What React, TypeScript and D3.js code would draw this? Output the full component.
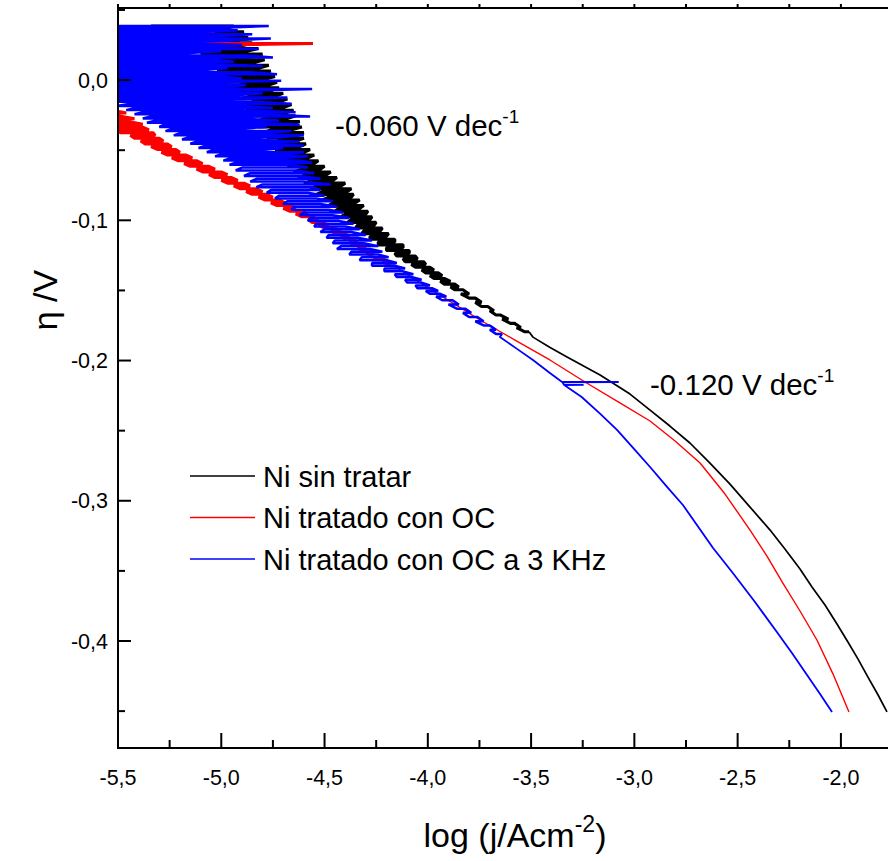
import React from "react";
import * as d3 from "d3";

// ---------- axis ticks ----------
const xTickValues = [-5.5, -5.0, -4.5, -4.0, -3.5, -3.0, -2.5, -2.0];
const xTickLabels = ["-5,5", "-5,0", "-4,5", "-4,0", "-3,5", "-3,0", "-2,5", "-2,0"];
const xMinorTicks = [-5.25, -4.75, -4.25, -3.75, -3.25, -2.75, -2.25];
const yTickValues = [0, -0.1, -0.2, -0.3, -0.4];
const yTickLabels = ["0,0", "-0,1", "-0,2", "-0,3", "-0,4"];
const yMinorTicks = [0.05, -0.05, -0.15, -0.25, -0.35, -0.45];

const seriesNames = ["Ni sin tratar", "Ni tratado con OC", "Ni tratado con OC a 3 KHz"];
const seriesColors = ["#000000", "#ff0000", "#0000ff"];

// ---------- data ----------
// noisy parts: [eta (V), logj excursion start, logj excursion end] at each potential step
// smooth parts: [eta (V), logj]

const blackNoisyRows: [number, number, number][] = [
  [0.0385, -5.34, -4.94], [0.0365, -5.22, -4.98], [0.0345, -5.3, -4.89], [0.0325, -5.15, -4.95],
  [0.0305, -5.24, -4.87], [0.0285, -5.1, -4.92], [0.0265, -5.18, -4.85], [0.0245, -5.06, -4.9],
  [0.0225, -5.14, -4.82], [0.0205, -5.04, -4.88], [0.0185, -5.1, -4.8], [0.0165, -5.0, -4.86],
  [0.0145, -5.06, -4.79], [0.0125, -4.98, -4.84], [0.0105, -5.04, -4.77], [0.0085, -4.96, -4.82],
  [0.0065, -5.02, -4.76], [0.0045, -4.94, -4.8], [0.0025, -5.0, -4.74], [0.0005, -4.93, -4.79],
  [-0.0015, -4.98, -4.73], [-0.0035, -4.9, -4.77], [-0.0055, -4.96, -4.72], [-0.0075, -4.88, -4.76],
  [-0.0095, -4.94, -4.7], [-0.0115, -4.86, -4.74], [-0.0135, -4.92, -4.68], [-0.0155, -4.84, -4.72],
  [-0.0175, -4.9, -4.66], [-0.0195, -4.82, -4.7], [-0.0215, -4.88, -4.65], [-0.0235, -4.8, -4.69],
  [-0.0255, -4.86, -4.64], [-0.0275, -4.79, -4.68], [-0.0295, -4.84, -4.62], [-0.0315, -4.77, -4.67],
  [-0.0335, -4.82, -4.61], [-0.0355, -4.76, -4.66], [-0.0375, -4.8, -4.6], [-0.0395, -4.74, -4.65],
  [-0.0415, -4.78, -4.6], [-0.0435, -4.72, -4.64], [-0.0455, -4.76, -4.59], [-0.0475, -4.7, -4.62],
  [-0.0495, -4.74, -4.57], [-0.0515, -4.68, -4.6], [-0.0535, -4.72, -4.55], [-0.0555, -4.66, -4.58],
  [-0.0575, -4.7, -4.53], [-0.0595, -4.64, -4.55], [-0.0615, -4.68, -4.5], [-0.0635, -4.61, -4.52],
  [-0.0655, -4.65, -4.47], [-0.0675, -4.59, -4.49], [-0.0695, -4.63, -4.44], [-0.0715, -4.56, -4.46],
  [-0.0735, -4.6, -4.4], [-0.0755, -4.54, -4.42], [-0.0775, -4.57, -4.37], [-0.0795, -4.51, -4.39],
  [-0.0815, -4.54, -4.36], [-0.0835, -4.48, -4.37], [-0.0855, -4.51, -4.33], [-0.0875, -4.46, -4.35],
  [-0.0895, -4.48, -4.31], [-0.0915, -4.43, -4.33], [-0.0935, -4.45, -4.29], [-0.0955, -4.4, -4.3],
  [-0.0975, -4.42, -4.27], [-0.0995, -4.37, -4.28], [-0.1015, -4.39, -4.25], [-0.1035, -4.34, -4.26],
  [-0.1055, -4.35, -4.22], [-0.1075, -4.31, -4.23], [-0.1095, -4.32, -4.19], [-0.1115, -4.28, -4.2],
  [-0.1135, -4.28, -4.16], [-0.1155, -4.24, -4.16], [-0.1175, -4.24, -4.12], [-0.1195, -4.2, -4.12],
  [-0.1215, -4.2, -4.09], [-0.1235, -4.16, -4.09], [-0.1255, -4.15, -4.06], [-0.1275, -4.12, -4.05],
  [-0.1295, -4.11, -4.02], [-0.1315, -4.08, -4.01], [-0.1335, -4.06, -3.99], [-0.1355, -4.03, -3.97],
  [-0.1375, -4.01, -3.95], [-0.1395, -3.99, -3.93], [-0.1415, -3.97, -3.92], [-0.1435, -3.94, -3.89],
  [-0.1455, -3.92, -3.87], [-0.1475, -3.89, -3.85], [-0.1495, -3.87, -3.83], [-0.1525, -3.84, -3.8],
  [-0.1555, -3.8, -3.77], [-0.1585, -3.77, -3.74], [-0.1615, -3.74, -3.71], [-0.1645, -3.7, -3.68],
  [-0.1675, -3.67, -3.65], [-0.1705, -3.64, -3.61], [-0.1735, -3.6, -3.58], [-0.1765, -3.57, -3.55],
  [-0.1795, -3.53, -3.51],
];
const blackSmooth: [number, number][] = [
  [-0.1833, -3.491], [-0.1905, -3.41], [-0.1975, -3.326], [-0.2103, -3.166], [-0.2239, -3.021],
  [-0.2353, -2.924], [-0.2467, -2.828], [-0.2588, -2.731], [-0.2731, -2.634], [-0.2881, -2.537],
  [-0.3045, -2.44], [-0.3209, -2.343], [-0.3344, -2.271], [-0.3487, -2.198], [-0.3615, -2.14],
  [-0.3743, -2.077], [-0.3879, -2.019], [-0.4007, -1.966], [-0.4129, -1.917], [-0.4257, -1.869],
  [-0.4385, -1.82], [-0.4506, -1.777],
];

const redNoisyRows: [number, number, number][] = [
  [0.036, -5.75, -5.62], [0.0345, -5.7, -5.03], [0.032, -5.78, -5.6], [0.0295, -5.68, -5.58],
  [0.026, -5.7, -4.556], [0.0235, -5.74, -5.6], [0.0205, -5.66, -5.57], [0.0175, -5.76, -5.62],
  [0.0145, -5.7, -5.6], [0.0115, -5.73, -5.64], [0.0085, -5.66, -5.58], [0.0055, -5.7, -5.6],
  [0.0025, -5.72, -5.62], [-0.0005, -5.68, -5.57], [-0.0035, -5.7, -5.6], [-0.0065, -5.66, -5.56],
  [-0.0095, -5.69, -5.58], [-0.0125, -5.64, -5.55], [-0.0155, -5.66, -5.56], [-0.0185, -5.62, -5.53],
  [-0.0215, -5.64, -5.52], [-0.0235, -5.6, -5.46], [-0.0255, -5.62, -5.5], [-0.0275, -5.58, -5.42],
  [-0.0295, -5.6, -5.45], [-0.0315, -5.56, -5.38], [-0.0335, -5.55, -5.38], [-0.0355, -5.5, -5.35],
  [-0.0375, -5.49, -5.33], [-0.0395, -5.44, -5.32], [-0.0415, -5.42, -5.3], [-0.0435, -5.39, -5.28],
  [-0.0455, -5.37, -5.26], [-0.0475, -5.34, -5.24], [-0.0495, -5.31, -5.22], [-0.0515, -5.29, -5.2],
  [-0.0535, -5.26, -5.17], [-0.0555, -5.24, -5.14], [-0.0575, -5.21, -5.12], [-0.0595, -5.18, -5.09],
  [-0.0615, -5.15, -5.06], [-0.0635, -5.12, -5.03], [-0.0655, -5.09, -5.0], [-0.0675, -5.06, -4.97],
  [-0.0695, -5.03, -4.95], [-0.0715, -5.0, -4.92], [-0.0735, -4.97, -4.89], [-0.0755, -4.94, -4.86],
  [-0.0775, -4.91, -4.83], [-0.0795, -4.88, -4.8], [-0.0815, -4.85, -4.78], [-0.0835, -4.82, -4.75],
  [-0.0855, -4.79, -4.72], [-0.0875, -4.76, -4.69], [-0.0895, -4.73, -4.66], [-0.0915, -4.7, -4.64],
  [-0.0935, -4.67, -4.61], [-0.0955, -4.64, -4.58], [-0.0975, -4.61, -4.56], [-0.0995, -4.58, -4.53],
  [-0.1015, -4.56, -4.51], [-0.1035, -4.53, -4.48], [-0.1055, -4.5, -4.45], [-0.1075, -4.47, -4.42],
  [-0.1095, -4.45, -4.4], [-0.1115, -4.42, -4.38], [-0.1135, -4.4, -4.36], [-0.1155, -4.38, -4.34],
  [-0.1175, -4.36, -4.32], [-0.1195, -4.34, -4.3], [-0.1215, -4.32, -4.28], [-0.1235, -4.3, -4.26],
  [-0.1265, -4.26, -4.23], [-0.1295, -4.22, -4.19], [-0.1325, -4.18, -4.16],
];
const redSmooth: [number, number][] = [
  [-0.1354, -4.135], [-0.1533, -3.941], [-0.1711, -3.747], [-0.1854, -3.578], [-0.1996, -3.409],
  [-0.2153, -3.239], [-0.2302, -3.07], [-0.2431, -2.924], [-0.2574, -2.803], [-0.2731, -2.682],
  [-0.2952, -2.561], [-0.3209, -2.44], [-0.3394, -2.358], [-0.3587, -2.281], [-0.3786, -2.198],
  [-0.3993, -2.116], [-0.4236, -2.038], [-0.4506, -1.961],
];

const blueNoisyRows: [number, number, number][] = [
  [0.0386, -5.62, -4.77], [0.0371, -5.6, -5.02], [0.0356, -5.63, -4.92], [0.0341, -5.58, -5.12],
  [0.0326, -5.61, -4.85], [0.0311, -5.6, -5.05], [0.0296, -5.64, -4.76], [0.0281, -5.59, -4.98],
  [0.0266, -5.62, -5.15], [0.0251, -5.6, -4.9], [0.0236, -5.63, -5.06], [0.0221, -5.58, -4.82],
  [0.0206, -5.61, -5.0], [0.0191, -5.6, -5.18], [0.0176, -5.62, -4.88], [0.0161, -5.59, -4.75],
  [0.0146, -5.63, -5.04], [0.0131, -5.6, -4.94], [0.0116, -5.61, -5.1], [0.0101, -5.58, -4.8],
  [0.0086, -5.62, -4.97], [0.0071, -5.6, -5.08], [0.0056, -5.63, -4.86], [0.0041, -5.59, -4.73],
  [0.0026, -5.61, -5.0], [0.0011, -5.6, -4.9], [-0.0004, -5.62, -4.71], [-0.0019, -5.58, -5.06],
  [-0.0034, -5.6, -4.88], [-0.0049, -5.57, -4.95], [-0.0064, -5.6, -4.56], [-0.0079, -5.56, -5.0],
  [-0.0094, -5.58, -4.8], [-0.0109, -5.55, -4.93], [-0.0124, -5.6, -4.68], [-0.0139, -5.5, -4.98],
  [-0.0154, -5.52, -4.85], [-0.0169, -5.44, -4.66], [-0.0184, -5.5, -4.9], [-0.0199, -5.42, -4.75],
  [-0.0214, -5.46, -4.96], [-0.0229, -5.38, -4.64], [-0.0244, -5.42, -4.82], [-0.0259, -5.34, -4.57],
  [-0.0274, -5.38, -4.9], [-0.0289, -5.32, -4.72], [-0.0304, -5.36, -4.85], [-0.0319, -5.28, -4.62],
  [-0.0334, -5.3, -4.78], [-0.0349, -5.24, -4.92], [-0.0364, -5.27, -4.66], [-0.0379, -5.2, -4.8],
  [-0.0394, -5.23, -4.6], [-0.0409, -5.16, -4.74], [-0.0424, -5.19, -4.86], [-0.0439, -5.12, -4.62],
  [-0.0454, -5.15, -4.76], [-0.0469, -5.08, -4.6], [-0.0484, -5.11, -4.7], [-0.0499, -5.04, -4.8],
  [-0.0514, -5.07, -4.6], [-0.0529, -5.0, -4.68], [-0.0544, -5.03, -4.58], [-0.0559, -4.96, -4.72],
  [-0.0574, -4.99, -4.62], [-0.0589, -4.93, -4.56], [-0.0604, -4.96, -4.66], [-0.0624, -4.9, -4.58],
  [-0.0644, -4.93, -4.64], [-0.0664, -4.86, -4.55], [-0.0684, -4.89, -4.62], [-0.0704, -4.83, -4.52],
  [-0.0724, -4.86, -4.6], [-0.0744, -4.8, -4.47], [-0.0764, -4.83, -4.56], [-0.0784, -4.76, -4.52],
  [-0.0804, -4.78, -4.58], [-0.0824, -4.72, -4.5], [-0.0844, -4.74, -4.54], [-0.0864, -4.68, -4.46],
  [-0.0884, -4.7, -4.52], [-0.0904, -4.65, -4.44], [-0.0924, -4.66, -4.48], [-0.0944, -4.6, -4.41],
  [-0.0964, -4.62, -4.46], [-0.0984, -4.57, -4.38], [-0.1004, -4.58, -4.43], [-0.1024, -4.54, -4.36],
  [-0.1044, -4.55, -4.4], [-0.1064, -4.5, -4.33], [-0.1084, -4.52, -4.37], [-0.1104, -4.48, -4.3],
  [-0.1124, -4.49, -4.34], [-0.1144, -4.45, -4.27], [-0.1164, -4.46, -4.31], [-0.1184, -4.42, -4.24],
  [-0.1204, -4.44, -4.28], [-0.1224, -4.37, -4.22], [-0.1244, -4.38, -4.24], [-0.1264, -4.32, -4.19],
  [-0.1284, -4.33, -4.2], [-0.1304, -4.27, -4.15], [-0.1324, -4.27, -4.16], [-0.1344, -4.21, -4.11],
  [-0.1364, -4.21, -4.12], [-0.1384, -4.16, -4.07], [-0.1404, -4.15, -4.08], [-0.1424, -4.11, -4.03],
  [-0.1444, -4.1, -4.03], [-0.1464, -4.06, -3.99], [-0.1484, -4.05, -3.98], [-0.1504, -4.01, -3.95],
  [-0.1524, -3.99, -3.94], [-0.1544, -3.96, -3.91], [-0.157, -3.93, -3.88], [-0.16, -3.9, -3.85],
  [-0.163, -3.86, -3.82], [-0.166, -3.83, -3.79], [-0.169, -3.8, -3.76], [-0.172, -3.77, -3.73],
  [-0.175, -3.73, -3.7], [-0.178, -3.7, -3.67], [-0.181, -3.67, -3.64],
];
const blueSmooth: [number, number][] = [
  [-0.1832, -3.651], [-0.1915, -3.57], [-0.1996, -3.491], [-0.2089, -3.409], [-0.2153, -3.35],
  [-0.2153, -3.079], [-0.2155, -3.348], [-0.2174, -3.341], [-0.2174, -3.249], [-0.2176, -3.338],
  [-0.226, -3.255], [-0.238, -3.165], [-0.2495, -3.084], [-0.2625, -3.005], [-0.2759, -2.924],
  [-0.2895, -2.845], [-0.303, -2.765], [-0.3337, -2.619], [-0.3508, -2.527], [-0.3722, -2.416],
  [-0.3936, -2.31], [-0.4086, -2.237], [-0.4243, -2.164], [-0.4378, -2.101], [-0.4506, -2.043],
];

const annotations = [
  { text: "-0.060 V dec", sup: "-1", logj: -4.449, eta: -0.0399 },
  { text: "-0.120 V dec", sup: "-1", logj: -2.924, eta: -0.2246 },
];

// each noisy row is traversed back and forth, in recorded order
function rowsToPoints(rows: [number, number, number][]): [number, number][] {
  return rows.flatMap((r, i) =>
    i % 2 === 0
      ? ([[r[0], r[1]], [r[0], r[2]]] as [number, number][])
      : ([[r[0], r[2]], [r[0], r[1]]] as [number, number][])
  );
}

const noisyParts: [number, number][][] = [
  rowsToPoints(blackNoisyRows),
  rowsToPoints(redNoisyRows),
  rowsToPoints(blueNoisyRows),
];
const smoothParts: [number, number][][] = [blackSmooth, redSmooth, blueSmooth];

// ---------- layout ----------
const W = 888;
const H = 861;
const left = 118;
const right = 888;
const top = 8;
const bottom = 748;
const FONT = "'Liberation Sans', Arial, Helvetica, sans-serif";

export default function App() {
  const x = d3.scaleLinear().domain([-5.5, -1.772]).range([left, right]);
  const y = d3.scaleLinear().domain([-0.4763, 0.0514]).range([bottom, top]);
  const line = d3
    .line<[number, number]>()
    .x((d) => x(d[1]))
    .y((d) => y(d[0]));

  const noisyWidths = [3.1, 3.0, 2.5];
  const smoothWidths = [1.7, 1.4, 1.8];

  return (
    <svg
      width={W}
      height={H}
      style={{ position: "absolute", left: 0, top: 0, background: "#fff" }}
      fontFamily={FONT}
    >
      <rect x={0} y={0} width={W} height={H} fill="#fff" />
      <defs>
        <clipPath id="plotClip">
          <rect x={left} y={top} width={right - left} height={bottom - top} />
        </clipPath>
      </defs>

      <g clipPath="url(#plotClip)">
        {noisyParts.map((pts, i) => {
          const tail = pts[pts.length - 1];
          return (
            <g key={i}>
              <path
                d={line(pts) || ""}
                fill="none"
                stroke={seriesColors[i]}
                strokeWidth={noisyWidths[i]}
                strokeLinejoin="bevel"
                strokeLinecap="butt"
              />
              <path
                d={line([tail, ...smoothParts[i]]) || ""}
                fill="none"
                stroke={seriesColors[i]}
                strokeWidth={smoothWidths[i]}
                strokeLinejoin="round"
              />
            </g>
          );
        })}
      </g>

      {/* axes frame */}
      <line x1={left} x2={right} y1={bottom} y2={bottom} stroke="#000" strokeWidth={2} />
      <line x1={left} x2={right} y1={top} y2={top} stroke="#000" strokeWidth={2} />
      <line x1={left} x2={left} y1={top - 1} y2={bottom + 1} stroke="#000" strokeWidth={2} />

      {/* x ticks */}
      {xTickValues.map((v, i) => (
        <g key={"xt" + i}>
          <line x1={x(v)} x2={x(v)} y1={bottom} y2={bottom - 15} stroke="#000" strokeWidth={2} />
          <line x1={x(v)} x2={x(v)} y1={top} y2={top - 4} stroke="#000" strokeWidth={2} />
          <text x={x(v)} y={785} textAnchor="middle" fontSize={21.5} fill="#000">
            {xTickLabels[i]}
          </text>
        </g>
      ))}
      {xMinorTicks.map((v, i) => (
        <g key={"xm" + i}>
          <line x1={x(v)} x2={x(v)} y1={bottom} y2={bottom - 8} stroke="#000" strokeWidth={2} />
          <line x1={x(v)} x2={x(v)} y1={top} y2={top - 4} stroke="#000" strokeWidth={2} />
        </g>
      ))}

      {/* y ticks */}
      {yTickValues.map((v, i) => (
        <g key={"yt" + i}>
          <line x1={left} x2={left + 13} y1={y(v)} y2={y(v)} stroke="#000" strokeWidth={2} />
          <text x={108} y={y(v) + 7.5} textAnchor="end" fontSize={21.5} fill="#000">
            {yTickLabels[i]}
          </text>
        </g>
      ))}
      {yMinorTicks.map((v, i) => (
        <line key={"ym" + i} x1={left} x2={left + 7} y1={y(v)} y2={y(v)} stroke="#000" strokeWidth={2} />
      ))}

      {/* axis titles */}
      <text x={515} y={847} textAnchor="middle" fontSize={34} fill="#000">
        log (j/Acm<tspan fontSize={23} dy={-15}>-2</tspan>
        <tspan dy={15}>)</tspan>
      </text>
      <text transform="translate(57,300) rotate(-90)" textAnchor="middle" fontSize={34} fill="#000">
        η /V
      </text>

      {/* slope annotations */}
      {annotations.map((a, i) => (
        <text key={"an" + i} x={x(a.logj)} y={y(a.eta)} fontSize={29.5} fill="#000">
          {a.text}
          <tspan fontSize={19} dy={-13}>{a.sup}</tspan>
        </text>
      ))}

      {/* legend */}
      {seriesNames.map((name, i) => {
        const ly = 476 + i * 41.5;
        return (
          <g key={"lg" + i}>
            <line x1={190} x2={255} y1={ly} y2={ly} stroke={seriesColors[i]} strokeWidth={1.6} />
            <text x={263} y={ly + 10.5} fontSize={29} fill="#000">
              {name}
            </text>
          </g>
        );
      })}
    </svg>
  );
}
